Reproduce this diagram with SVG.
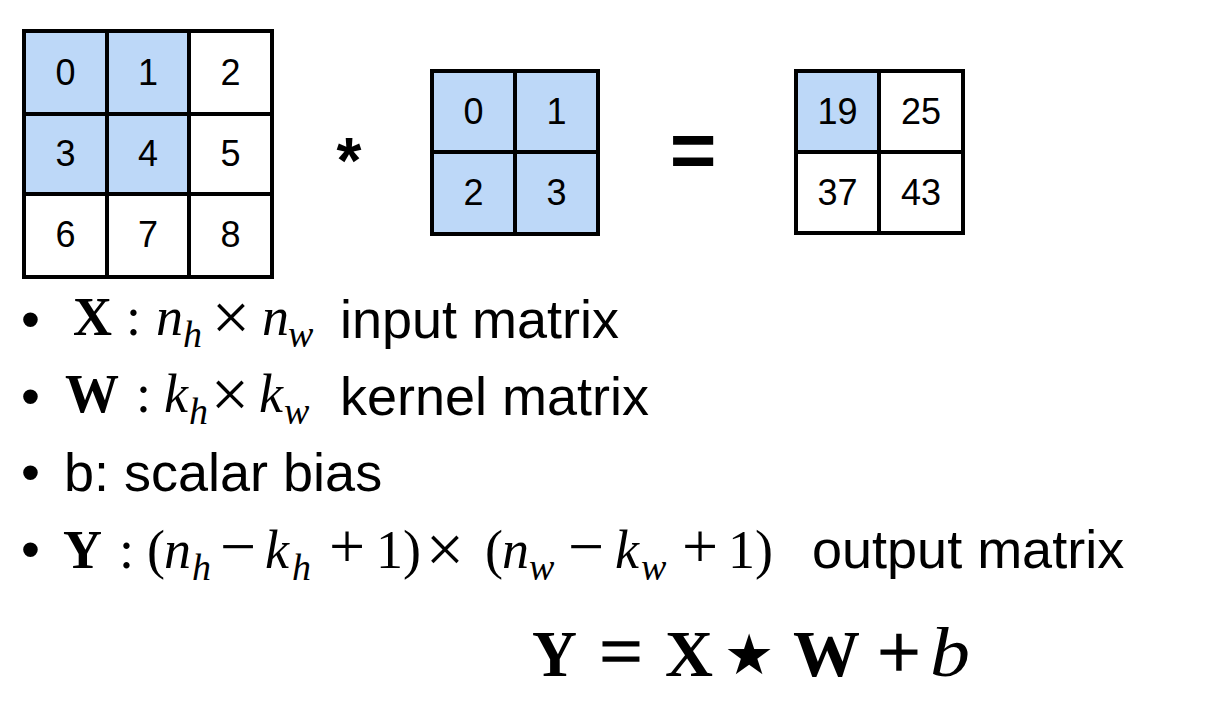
<svg xmlns="http://www.w3.org/2000/svg" width="1217" height="715" viewBox="0 0 1217 715">
<style>
.c{stroke:#000;stroke-width:4}
.b{fill:#bdd8f8}
.w{fill:#fff}
.num{font-family:"Liberation Sans",Arial,sans-serif;font-size:36px;text-anchor:middle;fill:#000}
.txt{font-family:"Liberation Sans",Arial,sans-serif;font-size:54px;fill:#000}
.m{font-family:"Liberation Serif","Times New Roman",serif;font-size:54px;fill:#000}
.op{font-family:"Liberation Serif","Times New Roman",serif;font-size:64px;fill:#000;text-anchor:middle}
.x{font-family:"Liberation Serif","Times New Roman",serif;font-size:68px;fill:#000;text-anchor:middle}
.bd{font-weight:bold}
.it{font-style:italic}
.sub{font-size:38px;font-style:italic}
.big{font-family:"Liberation Serif","Times New Roman",serif;font-size:66px;fill:#000}
.thick{stroke:#000;stroke-width:1.6}
</style>
<rect width="1217" height="715" fill="#fff"/>
<g id="input-matrix">
<rect class="c b" x="24" y="31" width="83" height="83"/>
<rect class="c b" x="107" y="31" width="82" height="83"/>
<rect class="c w" x="189" y="31" width="83" height="83"/>
<rect class="c b" x="24" y="114" width="83" height="80"/>
<rect class="c b" x="107" y="114" width="82" height="80"/>
<rect class="c w" x="189" y="114" width="83" height="80"/>
<rect class="c w" x="24" y="194" width="83" height="83"/>
<rect class="c w" x="107" y="194" width="82" height="83"/>
<rect class="c w" x="189" y="194" width="83" height="83"/>
<text class="num" x="65.5" y="85">0</text>
<text class="num" x="148" y="85">1</text>
<text class="num" x="230.5" y="85">2</text>
<text class="num" x="65.5" y="166">3</text>
<text class="num" x="148" y="166">4</text>
<text class="num" x="230.5" y="166">5</text>
<text class="num" x="65.5" y="247">6</text>
<text class="num" x="148" y="247">7</text>
<text class="num" x="230.5" y="247">8</text>
</g>
<g id="conv-op">
<text x="349" y="183" text-anchor="middle" style="font-family:'Liberation Sans',Arial,sans-serif;font-size:64px;font-weight:bold">*</text>
</g>
<g id="kernel-matrix">
<rect class="c b" x="432" y="71" width="83" height="81"/>
<rect class="c b" x="515" y="71" width="83" height="81"/>
<rect class="c b" x="432" y="152" width="83" height="82"/>
<rect class="c b" x="515" y="152" width="83" height="82"/>
<text class="num" x="473.5" y="124">0</text>
<text class="num" x="556.5" y="124">1</text>
<text class="num" x="473.5" y="205">2</text>
<text class="num" x="556.5" y="205">3</text>
</g>
<g id="equals">
<text x="693" y="177" text-anchor="middle" style="font-family:'Liberation Sans',Arial,sans-serif;font-size:80px;font-weight:bold">=</text>
</g>
<g id="output-matrix">
<rect class="c b" x="796" y="71" width="83" height="81"/>
<rect class="c w" x="879" y="71" width="84" height="81"/>
<rect class="c w" x="796" y="152" width="83" height="81"/>
<rect class="c w" x="879" y="152" width="84" height="81"/>
<text class="num" x="837.5" y="124">19</text>
<text class="num" x="921" y="124">25</text>
<text class="num" x="837.5" y="205">37</text>
<text class="num" x="921" y="205">43</text>
</g>
<g id="bullet-x">
<text class="txt" x="21" y="338">•</text>
<text class="m bd" x="73" y="335" textLength="39" lengthAdjust="spacingAndGlyphs">X</text>
<text class="m" x="126" y="335">:</text>
<text class="m it" x="156" y="335">n</text>
<text class="m sub" x="183" y="347">h</text>
<text class="x" x="231" y="340">×</text>
<text class="m it" x="262" y="335">n</text>
<text class="m sub" x="288" y="347">w</text>
<text class="txt" x="340" y="338">input matrix</text>
</g>
<g id="bullet-w">
<text class="txt" x="21" y="415">•</text>
<text class="m bd" x="65" y="412">W</text>
<text class="m" x="136" y="412">:</text>
<text class="m it" x="164" y="412">k</text>
<text class="m sub" x="189" y="424">h</text>
<text class="x" x="230" y="417">×</text>
<text class="m it" x="259" y="412">k</text>
<text class="m sub" x="284" y="424">w</text>
<text class="txt" x="340" y="415">kernel matrix</text>
</g>
<g id="bullet-b">
<text class="txt" x="21" y="491">•</text>
<text class="txt" x="64" y="491">b: scalar bias</text>
</g>
<g id="bullet-y">
<text class="txt" x="21" y="568">•</text>
<text class="m bd" x="63" y="568">Y</text>
<text class="m" x="119" y="568">:</text>
<text class="m" x="147" y="568">(</text>
<text class="m it" x="164" y="568">n</text>
<text class="m sub" x="192" y="580">h</text>
<text class="op" x="238" y="568">−</text>
<text class="m it" x="265" y="568">k</text>
<text class="m sub" x="292" y="580">h</text>
<text class="op" x="347" y="568">+</text>
<text class="m" x="376" y="568">1</text>
<text class="m" x="403" y="568">)</text>
<text class="x" x="445" y="572">×</text>
<text class="m" x="485" y="568">(</text>
<text class="m it" x="502" y="568">n</text>
<text class="m sub" x="529" y="580">w</text>
<text class="op" x="586" y="568">−</text>
<text class="m it" x="615" y="568">k</text>
<text class="m sub" x="641" y="580">w</text>
<text class="op" x="700" y="568">+</text>
<text class="m" x="728" y="568">1</text>
<text class="m" x="755" y="568">)</text>
<text class="txt" x="812" y="568">output matrix</text>
</g>
<g id="formula">
<text class="big bd" x="532" y="676" textLength="45" lengthAdjust="spacingAndGlyphs">Y</text>
<text class="big thick" x="621" y="677" text-anchor="middle" style="font-size:76px">=</text>
<text class="big bd" x="665" y="676" textLength="48" lengthAdjust="spacingAndGlyphs">X</text>
<text x="749" y="674" text-anchor="middle" style="font-family:'DejaVu Sans',sans-serif;font-size:56px">★</text>
<text class="big bd" x="793" y="676" textLength="67" lengthAdjust="spacingAndGlyphs">W</text>
<text class="big thick" x="899" y="677" text-anchor="middle" style="font-size:76px">+</text>
<text class="big it" x="930" y="676" style="font-size:70px" textLength="40" lengthAdjust="spacingAndGlyphs">b</text>
</g>
</svg>
